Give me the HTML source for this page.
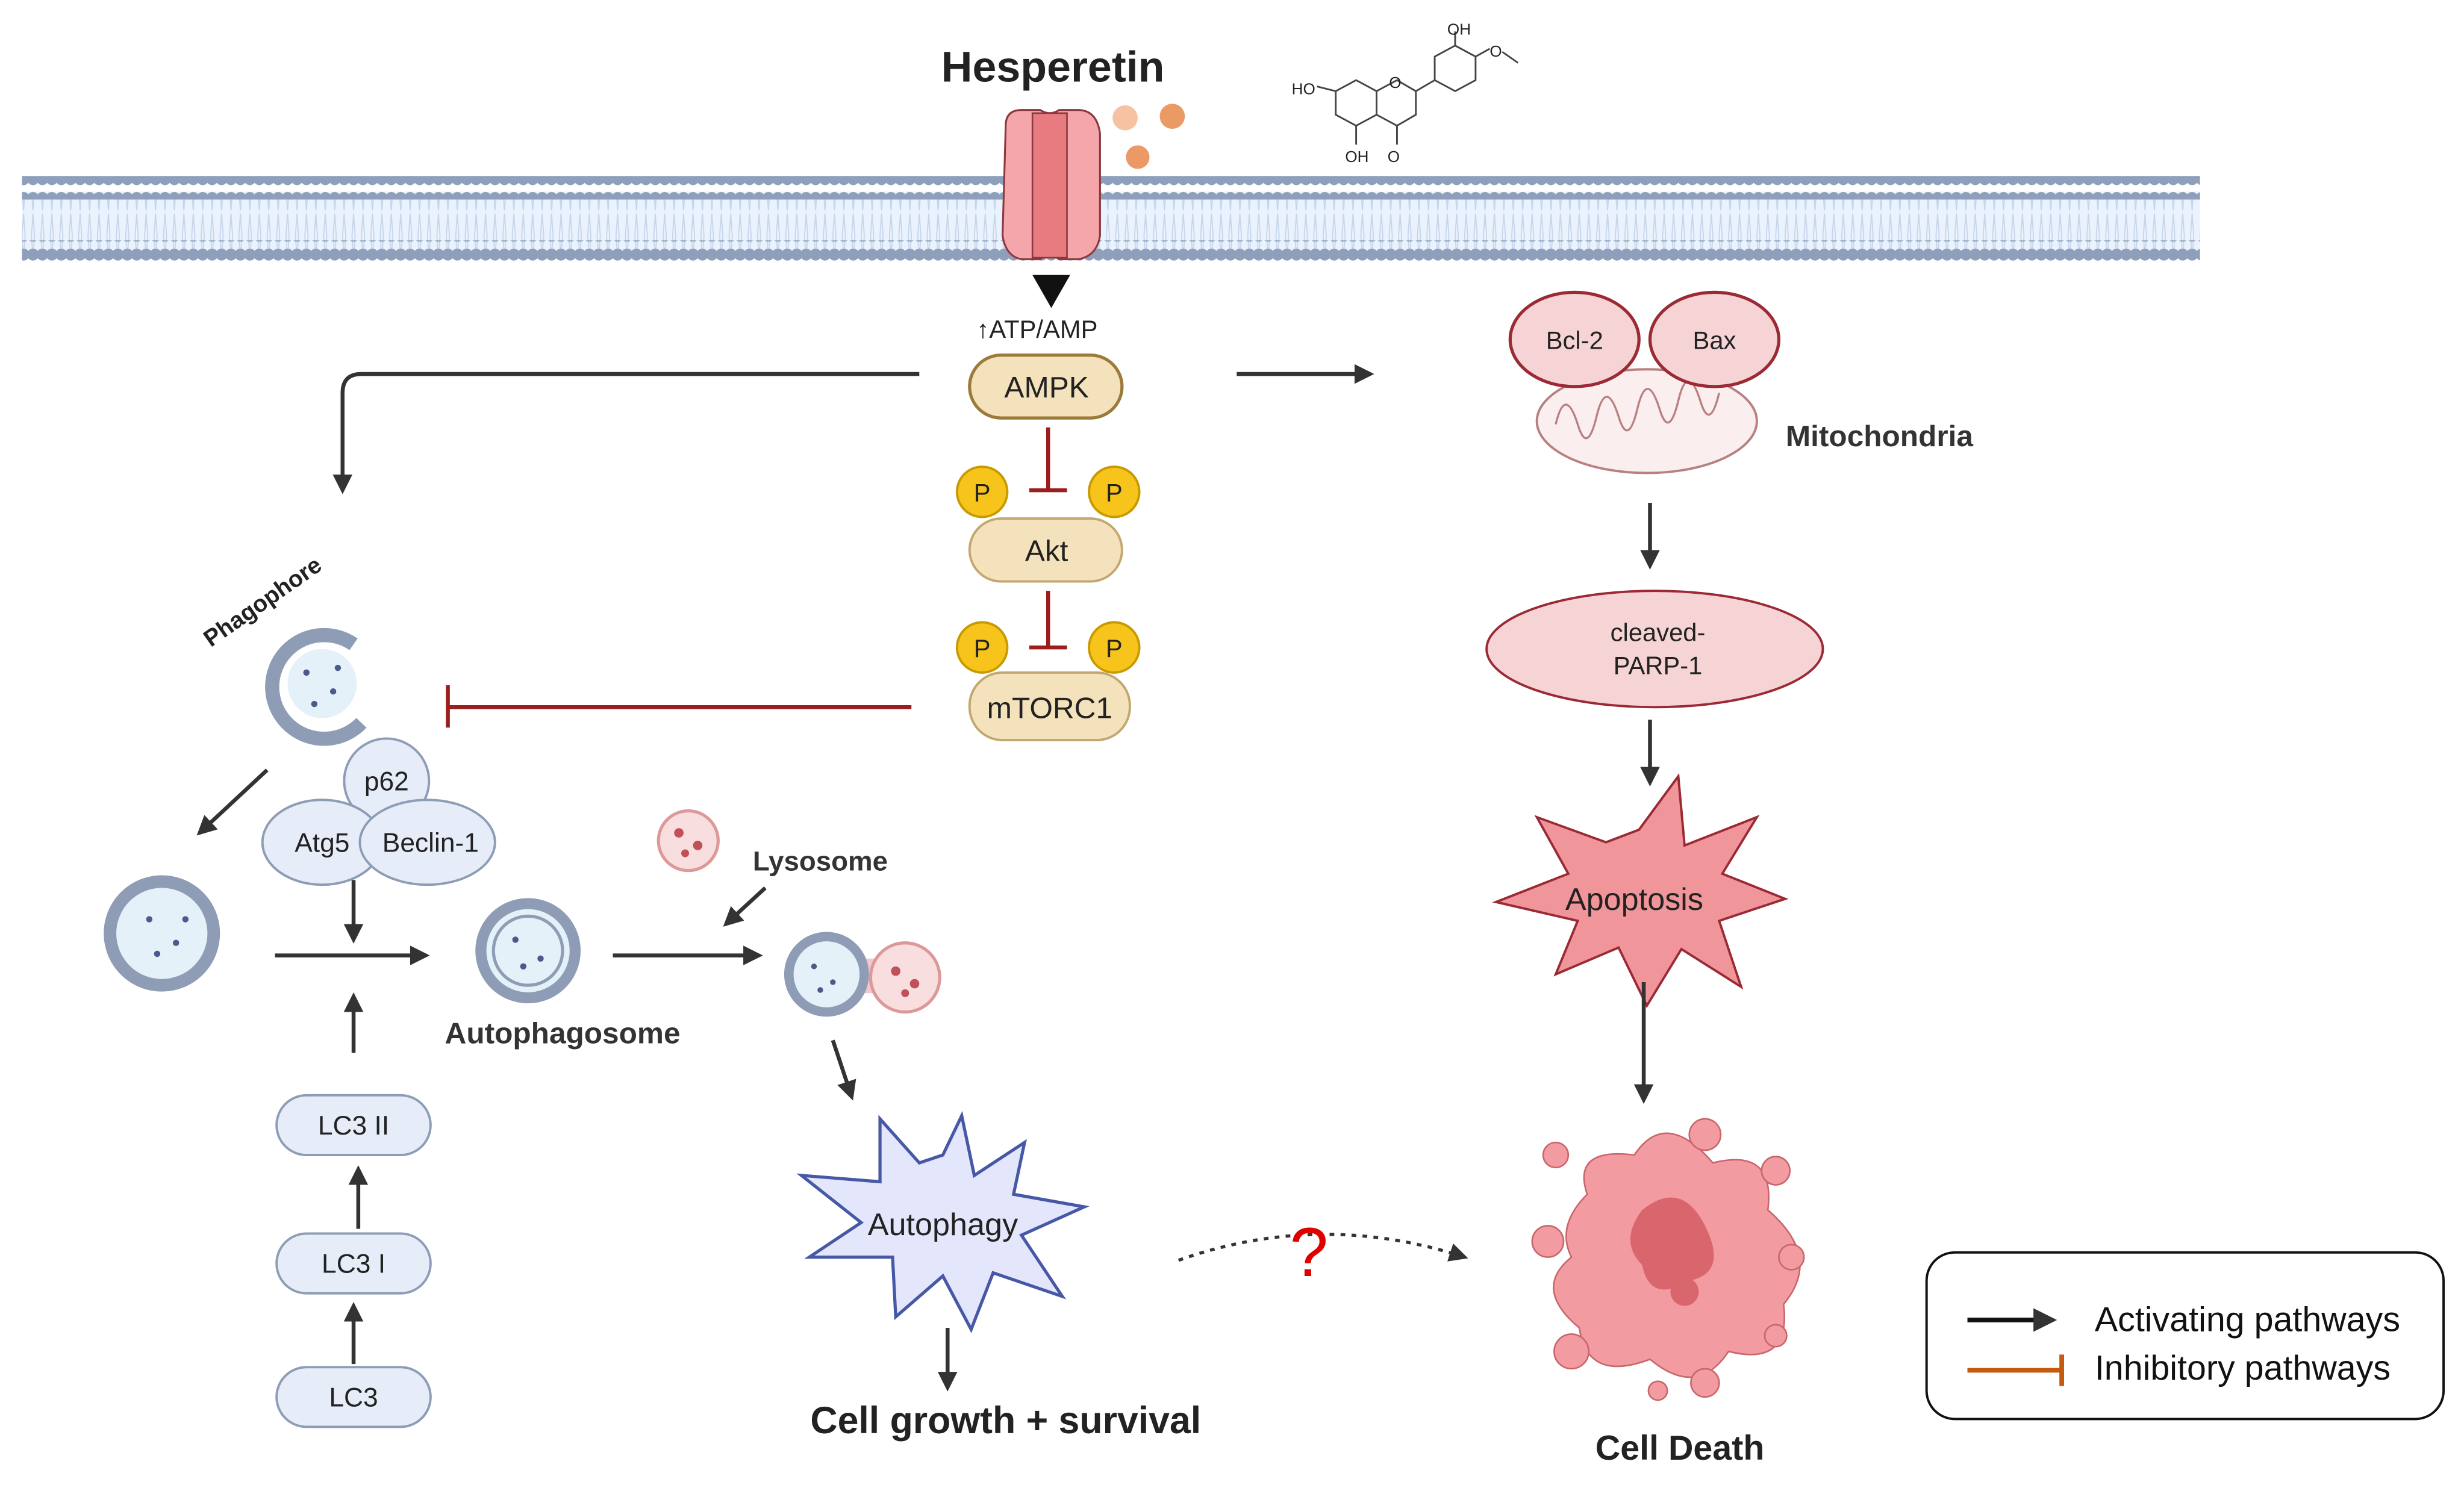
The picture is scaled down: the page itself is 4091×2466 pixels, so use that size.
<!DOCTYPE html>
<html><head><meta charset="utf-8"><style>
html,body{margin:0;padding:0;background:#fff;}
svg{display:block;}
text{font-family:"Liberation Sans",sans-serif;}
</style></head><body>
<svg width="4091" height="2466" viewBox="0 0 1568 945" preserveAspectRatio="none" xmlns="http://www.w3.org/2000/svg">
<defs>
<pattern id="heads" width="6" height="12" patternUnits="userSpaceOnUse"><circle cx="3" cy="6" r="3.8" fill="#8e9fbb"/></pattern>
<pattern id="tails" width="6" height="30" patternUnits="userSpaceOnUse"><path d="M2 0 L3 14 M4 0 L3 14 M2 30 L3 16 M4 30 L3 16" stroke="#c5d5ea" stroke-width="0.7" fill="none"/></pattern>
<marker id="ah" viewBox="0 0 10 10" refX="8" refY="5" markerWidth="5" markerHeight="5" orient="auto"><path d="M0 0 L10 5 L0 10 z" fill="#333"/></marker>
<marker id="ahd" viewBox="0 0 10 10" refX="8" refY="5" markerWidth="6" markerHeight="6" orient="auto"><path d="M0 0 L10 5 L0 10 z" fill="#333"/></marker>
</defs>
<rect width="1568" height="945" fill="#fff"/>
<rect x="14" y="122" width="1386" height="40" fill="#eaf3fd"/>
<rect x="14" y="124" width="1386" height="36" fill="url(#tails)"/>
<rect x="14" y="112" width="1386" height="15" fill="url(#heads)"/>
<rect x="14" y="153" width="1386" height="13" fill="url(#heads)"/>
<path d="M640 80 Q640 70 650 70 L662 70 Q668 74 674 70 L686 70 Q698 70 700 85 L700 150 Q698 163 686 165 L674 165 Q668 160 662 165 L650 165 Q640 163 638 150 Z" fill="#f5a6aa" stroke="#8a3a3e" stroke-width="1.2"/>
<rect x="657" y="72" width="22" height="92" fill="#e87b7f" stroke="#8a3a3e" stroke-width="1"/>
<text x="670" y="52" font-size="27.5" font-weight="bold" text-anchor="middle" fill="#222">Hesperetin</text>
<circle cx="716" cy="75" r="8" fill="#f6c2a2"/><circle cx="746" cy="74" r="8" fill="#eb9a66"/><circle cx="724" cy="100" r="7.5" fill="#eb9a66"/>
<g stroke="#444" stroke-width="1.1" fill="none">
<path d="M850 58 L863 51 L876 58 L876 73 L863 80 L850 73 Z"/>
<path d="M876 58 L889 51 L901 58 L901 73 L889 80 L876 73"/>
<path d="M901 58 L913 51 L913 36 L926 29 L939 36 L939 51 L926 58 L913 51"/>
<path d="M863 80 L863 92 M889 80 L889 92 M926 29 L926 20 M939 36 L948 31 M956 33 L966 40 M838 55 L850 58"/>
</g>
<g font-size="10" fill="#222"><text x="822" y="60">HO</text><text x="856" y="103">OH</text><text x="883" y="103">O</text><text x="921" y="22">OH</text><text x="948" y="36">O</text><text x="884" y="56">O</text></g>
<path d="M657 175 L681 175 L669 196 Z" fill="#111"/>
<text x="660" y="215" font-size="16" text-anchor="middle" fill="#222">↑ATP/AMP</text>
<rect x="617" y="226" width="97" height="40" rx="20" fill="#f3e2bb" stroke="#9a7b3a" stroke-width="2"/>
<text x="666" y="253" font-size="19" text-anchor="middle" fill="#222">AMPK</text>
<line x1="667" y1="272" x2="667" y2="312" stroke="#9b1d1d" stroke-width="2.5"/><line x1="655" y1="312" x2="679" y2="312" stroke="#9b1d1d" stroke-width="2.5"/>
<rect x="617" y="330" width="97" height="40" rx="20" fill="#f3e2bb" stroke="#c2a870" stroke-width="1.5"/>
<text x="666" y="357" font-size="19" text-anchor="middle" fill="#222">Akt</text>
<line x1="667" y1="376" x2="667" y2="412" stroke="#9b1d1d" stroke-width="2.5"/><line x1="655" y1="412" x2="679" y2="412" stroke="#9b1d1d" stroke-width="2.5"/>
<rect x="617" y="428" width="102" height="43" rx="21" fill="#f3e2bb" stroke="#c2a870" stroke-width="1.5"/>
<text x="668" y="457" font-size="19" text-anchor="middle" fill="#222">mTORC1</text>
<g fill="#f6c41a" stroke="#c99a00" stroke-width="1.5"><circle cx="625" cy="313" r="16"/><circle cx="709" cy="313" r="16"/><circle cx="625" cy="412" r="16"/><circle cx="709" cy="412" r="16"/></g>
<g font-size="16" text-anchor="middle" fill="#222"><text x="625" y="319">P</text><text x="709" y="319">P</text><text x="625" y="418">P</text><text x="709" y="418">P</text></g>
<line x1="580" y1="450" x2="285" y2="450" stroke="#9b1d1d" stroke-width="2.5"/><line x1="285" y1="436" x2="285" y2="463" stroke="#9b1d1d" stroke-width="2.5"/>
<path d="M585 238 L230 238 Q218 238 218 250 L218 312" fill="none" stroke="#333" stroke-width="2.5" marker-end="url(#ah)"/>
<line x1="787" y1="238" x2="872" y2="238" stroke="#333" stroke-width="2.5" marker-end="url(#ah)"/>
<ellipse cx="1048" cy="268" rx="70" ry="33" fill="#fbeeee" stroke="#b88080" stroke-width="1.5"/>
<path d="M990 270 q6 -25 14 0 q6 20 12 -5 q6 -25 14 0 q6 20 12 -5 q6 -25 14 0 q6 20 12 -5 q6 -25 14 0 q6 20 12 -5" fill="none" stroke="#b88080" stroke-width="1.3"/>
<ellipse cx="1002" cy="216" rx="41" ry="30" fill="#f6d4d6" stroke="#9b2a35" stroke-width="2"/>
<ellipse cx="1091" cy="216" rx="41" ry="30" fill="#f6d4d6" stroke="#9b2a35" stroke-width="2"/>
<text x="1002" y="222" font-size="16" text-anchor="middle" fill="#222">Bcl-2</text>
<text x="1091" y="222" font-size="16" text-anchor="middle" fill="#222">Bax</text>
<text x="1196" y="284" font-size="19" font-weight="bold" text-anchor="middle" fill="#333">Mitochondria</text>
<line x1="1050" y1="320" x2="1050" y2="360" stroke="#333" stroke-width="2.5" marker-end="url(#ah)"/>
<ellipse cx="1053" cy="413" rx="107" ry="37" fill="#f6d4d6" stroke="#9b2a35" stroke-width="1.5"/>
<text x="1055" y="408" font-size="16" text-anchor="middle" fill="#222">cleaved-</text>
<text x="1055" y="429" font-size="16" text-anchor="middle" fill="#222">PARP-1</text>
<line x1="1050" y1="458" x2="1050" y2="498" stroke="#333" stroke-width="2.5" marker-end="url(#ah)"/>
<path d="M1043 528 L1068 494 L1072 538 L1118 520 L1096 556 L1136 572 L1094 586 L1108 628 L1070 604 L1048 640 L1030 603 L990 620 L1004 586 L952 574 L998 556 L978 520 L1022 536 Z" fill="#f0959a" stroke="#9b2a35" stroke-width="1.5"/>
<text x="1040" y="579" font-size="20" text-anchor="middle" fill="#222">Apoptosis</text>
<line x1="1046" y1="625" x2="1046" y2="700" stroke="#333" stroke-width="2.5" marker-end="url(#ah)"/>
<g fill="#f29ba0" stroke="#c8666c" stroke-width="1">
<path d="M1010 760 Q1000 730 1040 735 Q1060 705 1090 740 Q1130 730 1125 770 Q1160 800 1135 830 Q1140 870 1100 860 Q1080 890 1050 865 Q1010 880 1005 845 Q975 820 1000 800 Q990 780 1010 760 Z"/>
<circle cx="1085" cy="722" r="10"/><circle cx="1130" cy="745" r="9"/><circle cx="990" cy="735" r="8"/><circle cx="985" cy="790" r="10"/><circle cx="1000" cy="860" r="11"/><circle cx="1130" cy="850" r="7"/><circle cx="1085" cy="880" r="9"/><circle cx="1055" cy="885" r="6"/><circle cx="1140" cy="800" r="8"/>
</g>
<path d="M1045 770 Q1070 750 1085 780 Q1100 810 1075 815 Q1050 830 1045 805 Q1030 790 1045 770 Z" fill="#d9666d"/>
<circle cx="1072" cy="822" r="9" fill="#d9666d"/>
<text x="1069" y="929" font-size="22" font-weight="bold" text-anchor="middle" fill="#222">Cell Death</text>
<text x="170" y="387" font-size="15" font-weight="bold" text-anchor="middle" fill="#222" transform="rotate(-35 170 387)">Phagophore</text>
<g>
<path d="M225 410 A33 33 0 1 0 230 460" fill="none" stroke="#8e9db5" stroke-width="9"/>
<circle cx="205" cy="435" r="22" fill="#e4f1f8"/>
<g fill="#4a5a8a"><circle cx="195" cy="428" r="2"/><circle cx="212" cy="440" r="2"/><circle cx="200" cy="448" r="2"/><circle cx="215" cy="425" r="2"/></g>
</g>
<line x1="170" y1="490" x2="127" y2="530" stroke="#333" stroke-width="2.5" marker-end="url(#ah)"/>
<circle cx="103" cy="594" r="33" fill="#e4f1f8" stroke="#8e9db5" stroke-width="8"/>
<g fill="#4a5a8a"><circle cx="95" cy="585" r="2"/><circle cx="112" cy="600" r="2"/><circle cx="100" cy="607" r="2"/><circle cx="118" cy="585" r="2"/></g>
<g fill="#e7edf8" stroke="#8e9db5" stroke-width="1.5">
<circle cx="246" cy="497" r="27"/>
<ellipse cx="205" cy="536" rx="38" ry="27"/>
<ellipse cx="272" cy="536" rx="43" ry="27"/>
</g>
<g font-size="17" text-anchor="middle" fill="#222"><text x="246" y="503">p62</text><text x="205" y="542">Atg5</text><text x="274" y="542">Beclin-1</text></g>
<line x1="225" y1="560" x2="225" y2="598" stroke="#333" stroke-width="2.5" marker-end="url(#ah)"/>
<line x1="175" y1="608" x2="271" y2="608" stroke="#333" stroke-width="2.5" marker-end="url(#ah)"/>
<line x1="225" y1="670" x2="225" y2="634" stroke="#333" stroke-width="2.5" marker-end="url(#ah)"/>
<circle cx="336" cy="605" r="30" fill="#e4f1f8" stroke="#8e9db5" stroke-width="7"/>
<circle cx="336" cy="605" r="22" fill="none" stroke="#8e9db5" stroke-width="2"/>
<g fill="#4a5a8a"><circle cx="328" cy="598" r="2"/><circle cx="344" cy="610" r="2"/><circle cx="333" cy="615" r="2"/></g>
<text x="358" y="664" font-size="19" font-weight="bold" text-anchor="middle" fill="#333">Autophagosome</text>
<g fill="#e7edf8" stroke="#8e9db5" stroke-width="1.5">
<rect x="176" y="697" width="98" height="38" rx="19"/>
<rect x="176" y="785" width="98" height="38" rx="19"/>
<rect x="176" y="870" width="98" height="38" rx="19"/>
</g>
<g font-size="17" text-anchor="middle" fill="#222"><text x="225" y="722">LC3 II</text><text x="225" y="810">LC3 I</text><text x="225" y="895">LC3</text></g>
<line x1="228" y1="782" x2="228" y2="744" stroke="#333" stroke-width="2.5" marker-end="url(#ah)"/>
<line x1="225" y1="868" x2="225" y2="831" stroke="#333" stroke-width="2.5" marker-end="url(#ah)"/>
<line x1="390" y1="608" x2="483" y2="608" stroke="#333" stroke-width="2.5" marker-end="url(#ah)"/>
<circle cx="438" cy="535" r="19" fill="#f8dede" stroke="#d99" stroke-width="2"/>
<g fill="#c0505a"><circle cx="432" cy="530" r="3"/><circle cx="444" cy="538" r="3"/><circle cx="436" cy="543" r="2.5"/></g>
<text x="522" y="554" font-size="17.5" font-weight="bold" text-anchor="middle" fill="#333">Lysosome</text>
<line x1="487" y1="565" x2="462" y2="588" stroke="#333" stroke-width="2.5" marker-end="url(#ah)"/>
<path d="M548 610 L560 610 L560 632 L548 632 Z" fill="#f2c9cb"/>
<circle cx="576" cy="622" r="22" fill="#f8dede" stroke="#d99" stroke-width="2"/>
<g fill="#c0505a"><circle cx="570" cy="618" r="3"/><circle cx="582" cy="626" r="3"/><circle cx="576" cy="632" r="2.5"/></g>
<circle cx="526" cy="620" r="24" fill="#e4f1f8" stroke="#8e9db5" stroke-width="6"/>
<g fill="#4a5a8a"><circle cx="518" cy="615" r="1.8"/><circle cx="530" cy="625" r="1.8"/><circle cx="522" cy="630" r="1.8"/></g>
<line x1="530" y1="662" x2="542" y2="698" stroke="#333" stroke-width="2.5" marker-end="url(#ah)"/>
<path d="M600 735 L612 710 L620 748 L652 727 L645 760 L690 768 L650 786 L676 825 L632 810 L618 846 L600 812 L570 838 L568 800 L515 800 L548 778 L510 748 L560 752 L560 712 L585 740 Z" fill="#e4e7fb" stroke="#4658a6" stroke-width="2"/>
<text x="600" y="786" font-size="20" text-anchor="middle" fill="#222">Autophagy</text>
<line x1="603" y1="845" x2="603" y2="883" stroke="#333" stroke-width="2.5" marker-end="url(#ah)"/>
<text x="640" y="912" font-size="24" font-weight="bold" text-anchor="middle" fill="#222">Cell growth + survival</text>
<path d="M750 802 Q840 770 932 800" fill="none" stroke="#333" stroke-width="2" stroke-dasharray="3 4" marker-end="url(#ahd)"/>
<text x="833" y="812" font-size="44" font-family="Liberation Serif,serif" text-anchor="middle" fill="#e00000">?</text>
<rect x="1226" y="797" width="329" height="106" rx="18" fill="#fff" stroke="#111" stroke-width="1.5"/>
<line x1="1252" y1="840" x2="1306" y2="840" stroke="#111" stroke-width="3" marker-end="url(#ah)"/>
<line x1="1252" y1="872" x2="1312" y2="872" stroke="#c55a11" stroke-width="3"/><line x1="1312" y1="862" x2="1312" y2="882" stroke="#c55a11" stroke-width="3"/>
<text x="1333" y="847" font-size="22" fill="#111">Activating pathways</text>
<text x="1333" y="878" font-size="22" fill="#111">Inhibitory pathways</text>
</svg>
</body></html>
